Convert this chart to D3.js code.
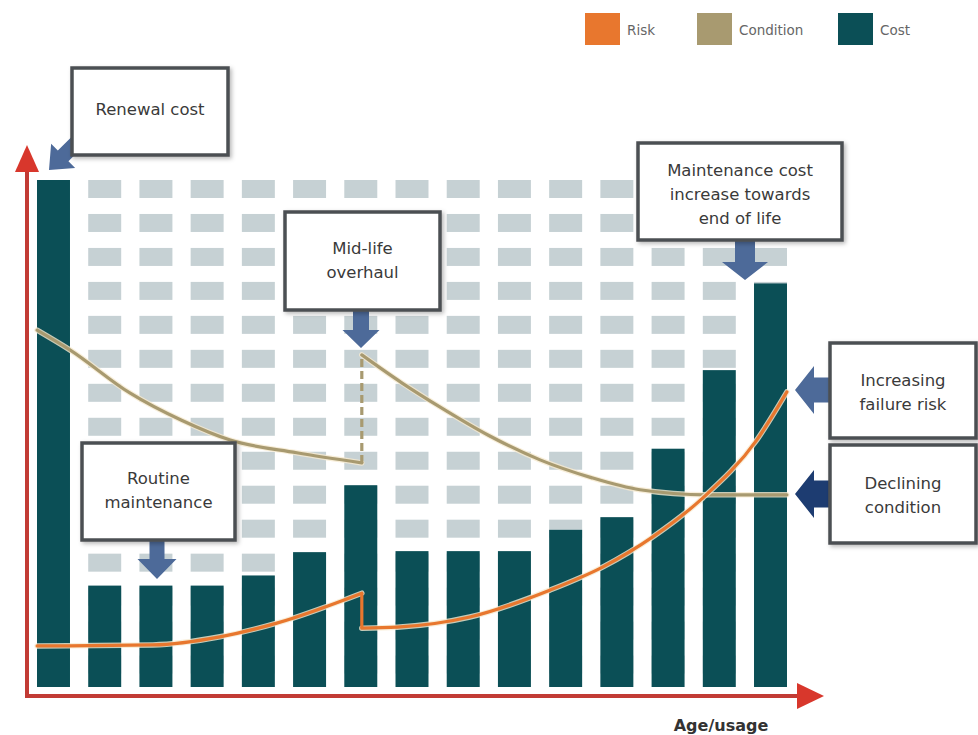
<!DOCTYPE html>
<html>
<head>
<meta charset="utf-8">
<script src="https://cdn.jsdelivr.net/npm/d3@7"></script>
<style>
  html, body { margin: 0; padding: 0; background: #ffffff; }
  svg { display: block; }
  text { font-family: "DejaVu Sans", "Open Sans", sans-serif; }
</style>
</head>
<body>
<div id="chart"></div>
<script>
// ---- Data ----------------------------------------------------------
const periods = ["1","2","3","4","5","6","7","8","9","10","11","12","13","14","15"];
const costValues = [100, 20, 20, 20, 22, 26.6, 39.8, 26.8, 26.8, 26.8, 31, 33.5, 47, 62.5, 79.6];

// Condition curve: [age position, level], before and after the mid-life overhaul
const conditionBefore = [[0.68, 70.4], [1.32, 66.5], [2.49, 58.0], [3.5, 52.6], [4.45, 48.7], [5.75, 46.2], [7.02, 44.2]];
const conditionAfter  = [[7.02, 65.5], [7.8, 60.0], [8.55, 55.2], [9.5, 49.6], [10.5, 44.8], [11.5, 41.3], [12.45, 38.9], [13.76, 37.9], [15.32, 37.9]];

// Failure-risk curve, before and after the overhaul
const riskBefore = [[0.68, 8.1], [2.94, 8.3], [4.25, 9.9], [5.36, 12.6], [7.02, 18.5]];
const riskAfter  = [[7.02, 11.6], [7.71, 11.8], [9.13, 13.8], [10.69, 19.1], [11.73, 23.7], [12.7, 29.6], [13.68, 37.3], [14.73, 48.7], [15.32, 58.2]];

const legendItems = ["Risk", "Condition", "Cost"];
const axisLabel = "Age/usage";

// ---- Styles --------------------------------------------------------
const COST = "#0b4f56", RISK = "#e8772e", COND = "#a89a70", GRID = "#c6d1d4";
const AXIS = "#c23b35", ARROW = "#4d6a99", ARROW_DARK = "#1d3c71";
const BOX_STROKE = "#4c5053", TEXT = "#3a3a3a";

const W = 978, H = 735;
const svg = d3.select("#chart").append("svg").attr("width", W).attr("height", H);

const defs = svg.append("defs");
const shadow = defs.append("filter").attr("id", "shadow")
  .attr("x", "-10%").attr("y", "-10%").attr("width", "130%").attr("height", "130%");
shadow.append("feDropShadow").attr("dx", 2).attr("dy", 2).attr("stdDeviation", 2)
  .attr("flood-color", "#000").attr("flood-opacity", 0.28);

// ---- Scales --------------------------------------------------------
const x = d3.scaleBand().domain(periods).range([37, 787]).paddingInner(0.356).paddingOuter(0);
const xAge = d3.scaleLinear().domain([1, 15])
  .range([x("1") + x.bandwidth() / 2, x("15") + x.bandwidth() / 2]);
const y = d3.scaleLinear().domain([0, 100]).range([687, 180]);

// ---- Background dash grid -----------------------------------------
const gridRowCount = 15, gridStep = 6.7, gridHeight = 3.55;
const gridRows = d3.range(gridRowCount).map(i => 100 - i * gridStep);
const gridCells = [];
periods.forEach(p => gridRows.forEach(r => gridCells.push({ p, r })));
svg.append("g").selectAll("rect").data(gridCells).join("rect")
  .attr("x", d => x(d.p)).attr("width", x.bandwidth())
  .attr("y", d => y(d.r)).attr("height", y(0) - y(gridHeight))
  .attr("fill", GRID);

// ---- Cost bars -----------------------------------------------------
svg.append("g").selectAll("rect").data(costValues).join("rect")
  .attr("x", (d, i) => x(periods[i])).attr("width", x.bandwidth())
  .attr("y", d => y(d)).attr("height", d => y(0) - y(d))
  .attr("fill", COST);

// ---- Condition and risk lines --------------------------------------
const line = d3.line().x(d => xAge(d[0])).y(d => y(d[1])).curve(d3.curveMonotoneX);

function drawCurve(before, after, color, dashedJump) {
  const g = svg.append("g").attr("fill", "none").attr("stroke-linecap", "round");
  const jump = [before[before.length - 1], after[0]];
  [before, after].forEach(seg => {
    g.append("path").attr("d", line(seg)).attr("stroke", "#f6ead0").attr("stroke-width", 5.5).attr("opacity", 0.8);
  });
  [before, after].forEach(seg => {
    g.append("path").attr("d", line(seg)).attr("stroke", color).attr("stroke-width", 3.2);
  });
  g.append("path").attr("d", d3.line().x(d => xAge(d[0])).y(d => y(d[1]))(jump))
    .attr("stroke", color).attr("stroke-width", 3.2)
    .attr("stroke-linecap", "butt")
    .attr("stroke-dasharray", dashedJump ? "8,4" : null);
}
drawCurve(conditionBefore, conditionAfter, COND, true);
drawCurve(riskBefore, riskAfter, RISK, false);

// ---- Axes ----------------------------------------------------------
const origin = { x: 27, y: 696 };
const axes = svg.append("g");
axes.append("line").attr("x1", origin.x).attr("y1", origin.y + 2).attr("x2", origin.x).attr("y2", 168)
  .attr("stroke", AXIS).attr("stroke-width", 4);
axes.append("line").attr("x1", origin.x - 2).attr("y1", origin.y).attr("x2", 800).attr("y2", origin.y)
  .attr("stroke", AXIS).attr("stroke-width", 4);
axes.append("path").attr("d", `M${origin.x - 12},172 L${origin.x},145 L${origin.x + 12},172 Z`).attr("fill", "#d8372c");
axes.append("path").attr("d", `M797,${origin.y - 13} L824,${origin.y} L797,${origin.y + 13} Z`).attr("fill", "#d8372c");
svg.append("text").attr("x", 721).attr("y", 731).attr("text-anchor", "middle")
  .attr("font-size", 16).attr("font-weight", 700).attr("fill", "#333").text(axisLabel);

// ---- Callout arrows ------------------------------------------------
// Block arrow pointing at (tx, ty) along direction angle (radians)
function blockArrow(tx, ty, angle, len, headLen, headW, shaftW, color) {
  const pts = [
    [0, 0], [-headLen, -headW / 2], [-headLen, -shaftW / 2], [-len, -shaftW / 2],
    [-len, shaftW / 2], [-headLen, shaftW / 2], [-headLen, headW / 2]
  ];
  const c = Math.cos(angle), s = Math.sin(angle);
  const p = pts.map(([u, v]) => [tx + u * c - v * s, ty + u * s + v * c]);
  svg.append("path").attr("d", "M" + p.map(q => q.join(",")).join("L") + "Z").attr("fill", color);
}
blockArrow(49, 170, Math.PI * 0.75, 40, 20, 34, 15, ARROW);            // renewal cost
blockArrow(361, 348, Math.PI / 2, 40, 18, 37, 16, ARROW);              // mid-life overhaul
blockArrow(745, 280, Math.PI / 2, 42, 18, 46, 20, ARROW);              // end-of-life maintenance
blockArrow(157, 579, Math.PI / 2, 40, 20, 39, 15, ARROW);              // routine maintenance
blockArrow(795, 390, Math.PI, 38, 19, 48, 25, ARROW);                  // failure risk
blockArrow(795, 494, Math.PI, 38, 19, 48, 27, ARROW_DARK);             // declining condition

// ---- Callout boxes -------------------------------------------------
const callouts = [
  { x: 72,  y: 68,  w: 156, h: 87, lines: ["Renewal cost"], ty: 115 },
  { x: 285, y: 212, w: 155, h: 98, lines: ["Mid-life", "overhaul"], ty: 254 },
  { x: 638, y: 143, w: 204, h: 97, lines: ["Maintenance cost", "increase towards", "end of life"], ty: 176 },
  { x: 82,  y: 443, w: 153, h: 97, lines: ["Routine", "maintenance"], ty: 484 },
  { x: 830, y: 343, w: 146, h: 95, lines: ["Increasing", "failure risk"], ty: 386 },
  { x: 830, y: 445, w: 146, h: 98, lines: ["Declining", "condition"], ty: 489 }
];
callouts.forEach(c => {
  svg.append("rect").attr("x", c.x).attr("y", c.y).attr("width", c.w).attr("height", c.h)
    .attr("fill", "#fff").attr("stroke", BOX_STROKE).attr("stroke-width", 3.5)
    .attr("filter", "url(#shadow)");
  const t = svg.append("text").attr("text-anchor", "middle").attr("font-size", 16.5).attr("fill", TEXT);
  c.lines.forEach((l, i) => {
    t.append("tspan").attr("x", c.x + c.w / 2).attr("y", c.ty + i * 24).text(l);
  });
});

// ---- Legend --------------------------------------------------------
const legendColors = [RISK, COND, COST];
const legendX = [585, 697, 838];
const legend = svg.append("g");
legendItems.forEach((name, i) => {
  legend.append("rect").attr("x", legendX[i]).attr("y", 13).attr("width", 35).attr("height", 32)
    .attr("fill", legendColors[i]);
  legend.append("text").attr("x", legendX[i] + 42).attr("y", 35)
    .attr("font-size", 13.5).attr("fill", "#666").text(name);
});
</script>
</body>
</html>
